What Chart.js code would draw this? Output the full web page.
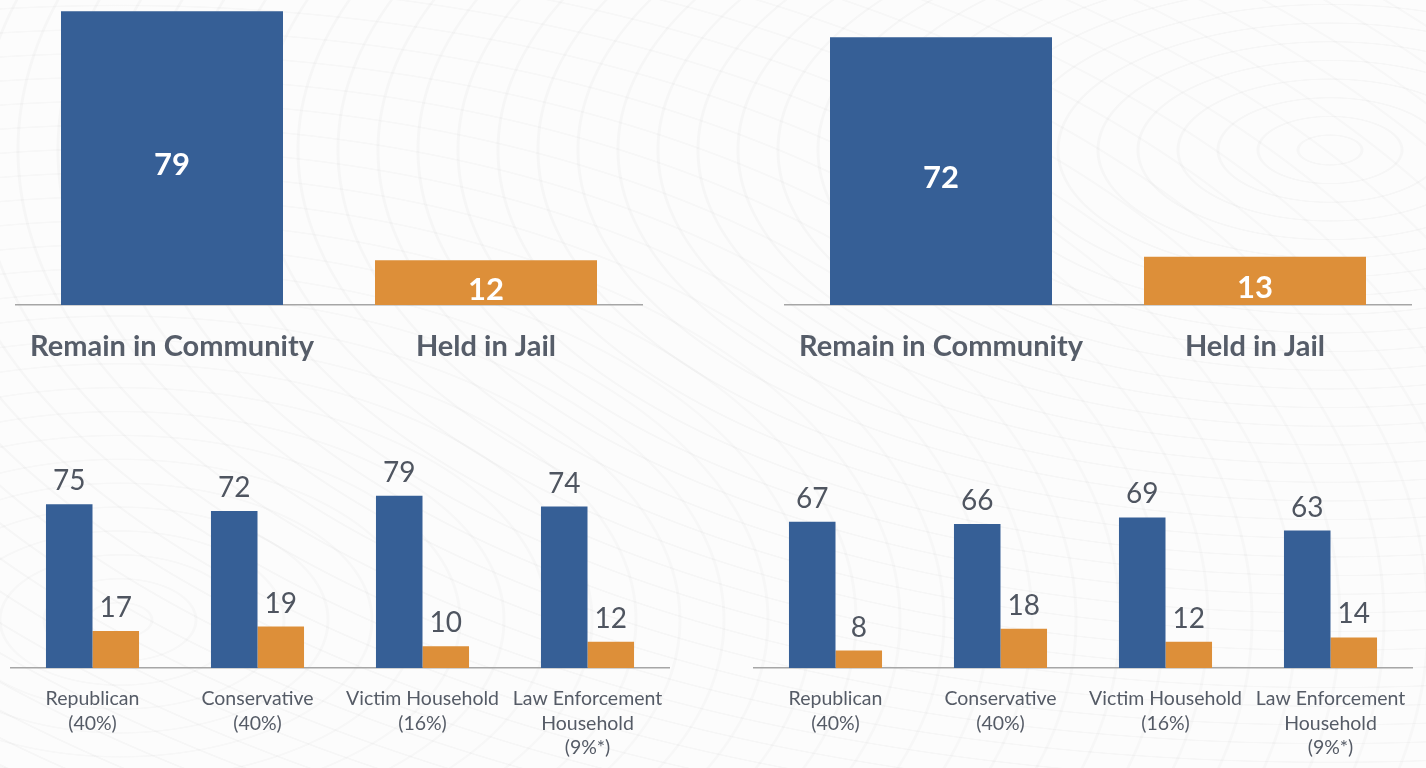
<!DOCTYPE html>
<html>
<head>
<meta charset="utf-8">
<script src="https://cdn.jsdelivr.net/npm/chart.js@4.4.1/dist/chart.umd.min.js"></script>
<style>
  body {
    margin: 0;
    width: 1426px;
    height: 768px;
    overflow: hidden;
    background-color: #fcfcfc;
    /* faint contour-like backdrop */
    background-image:
      repeating-radial-gradient(ellipse 900px 420px at 1330px 150px, rgba(0,0,0,0) 0 30px, rgba(0,0,0,0.022) 31px 33px, rgba(0,0,0,0) 34px 40px),
      repeating-radial-gradient(ellipse 700px 380px at 120px 620px, rgba(0,0,0,0) 0 30px, rgba(0,0,0,0.02) 31px 33px, rgba(0,0,0,0) 34px 44px);
    font-family: Lato, sans-serif;
  }
  .box { position: absolute; }
</style>
</head>
<body>
<div class="box" style="left:15px;top:0;width:628px;height:380px"><canvas id="topLeft"></canvas></div>
<div class="box" style="left:784px;top:0;width:628px;height:380px"><canvas id="topRight"></canvas></div>
<div class="box" style="left:10px;top:440px;width:660px;height:328px"><canvas id="bottomLeft"></canvas></div>
<div class="box" style="left:753px;top:440px;width:660px;height:328px"><canvas id="bottomRight"></canvas></div>
<script>
// data
const outcomeLabels = ['Remain in Community', 'Held in Jail'];
const outcomeLeft = [79, 12];
const outcomeRight = [72, 13];

const groupLabels = [
  ['Republican', '(40%)'],
  ['Conservative', '(40%)'],
  ['Victim Household', '(16%)'],
  ['Law Enforcement', 'Household', '(9%*)']
];
const leftRemain = [75, 72, 79, 74];
const leftJail = [17, 19, 10, 12];
const rightRemain = [67, 66, 69, 63];
const rightJail = [8, 18, 12, 14];

const BLUE = '#365f96';
const ORANGE = '#dd8f39';
const AXIS = '#a6a6a6';

// draws the numbers on / above the bars
const valueLabels = {
  id: 'valueLabels',
  afterDatasetsDraw(chart, args, opts) {
    const ctx = chart.ctx;
    ctx.save();
    ctx.font = opts.font;
    ctx.fillStyle = opts.color;
    ctx.textAlign = 'center';
    ctx.textBaseline = 'middle';
    chart.data.datasets.forEach((ds, i) => {
      chart.getDatasetMeta(i).data.forEach((bar, j) => {
        const y = opts.inside ? (bar.y + bar.base) / 2 + opts.shift : bar.y - opts.shift;
        ctx.fillText(ds.data[j], bar.x, y);
      });
    });
    ctx.restore();
  }
};

// fixed axis height, no extra side padding for wide labels
function fixAxis(height) {
  return s => {
    s.height = height;
    s.paddingLeft = 0;
    s.paddingRight = 0;
  };
}

function outcomeChart(id, values) {
  return new Chart(document.getElementById(id), {
    type: 'bar',
    data: {
      labels: outcomeLabels,
      datasets: [{ data: values, backgroundColor: [BLUE, ORANGE] }]
    },
    options: {
      responsive: true,
      maintainAspectRatio: false,
      animation: false,
      layout: { padding: 0 },
      categoryPercentage: 0.707,
      barPercentage: 1,
      scales: {
        x: {
          grid: { display: false, drawTicks: false },
          border: { display: true, color: AXIS, width: 1.5 },
          ticks: { color: '#565d69', padding: 24, font: { family: 'Lato', size: 29, weight: 'bold' } },
          afterFit: fixAxis(75)
        },
        y: { display: false, min: 0, max: 82 }
      },
      plugins: {
        legend: { display: false },
        tooltip: { enabled: false },
        valueLabels: { inside: true, shift: 7, color: '#ffffff', font: 'bold 31px Lato' }
      }
    },
    plugins: [valueLabels]
  });
}

function groupChart(id, remain, jail) {
  return new Chart(document.getElementById(id), {
    type: 'bar',
    data: {
      labels: groupLabels,
      datasets: [
        { label: 'Remain in Community', data: remain, backgroundColor: BLUE },
        { label: 'Held in Jail', data: jail, backgroundColor: ORANGE }
      ]
    },
    options: {
      responsive: true,
      maintainAspectRatio: false,
      animation: false,
      layout: { padding: 0 },
      categoryPercentage: 0.564,
      barPercentage: 1,
      scales: {
        x: {
          grid: { display: false, drawTicks: false },
          border: { display: true, color: AXIS, width: 1.5 },
          ticks: { color: '#555b66', padding: 19, maxRotation: 0, autoSkip: false,
                   font: { family: 'Lato', size: 19.5, lineHeight: 1.25 } },
          afterFit: fixAxis(100)
        },
        y: { display: false, min: 0, max: 104.5 }
      },
      plugins: {
        legend: { display: false },
        tooltip: { enabled: false },
        valueLabels: { inside: false, shift: 23, color: '#4f5560', font: '28px Lato' }
      }
    },
    plugins: [valueLabels]
  });
}

outcomeChart('topLeft', outcomeLeft);
outcomeChart('topRight', outcomeRight);
groupChart('bottomLeft', leftRemain, leftJail);
groupChart('bottomRight', rightRemain, rightJail);
</script>
</body>
</html>
